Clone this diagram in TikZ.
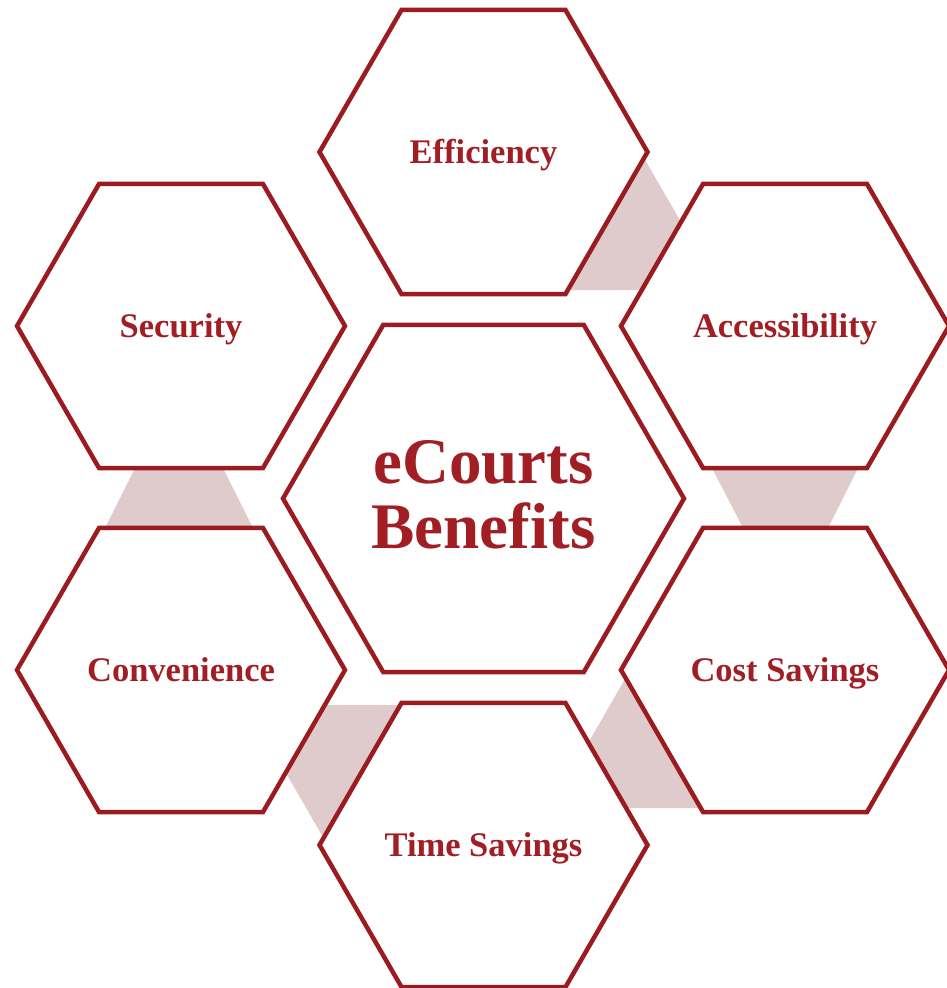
\documentclass[tikz,border=0pt]{standalone}
\usepackage{fontspec}
\setmainfont{Liberation Serif}
\definecolor{hexred}{HTML}{9B1C20}
\definecolor{txtred}{HTML}{A11F24}
\definecolor{pinkfill}{HTML}{DFCBCC}
\newcommand\drawhex[3]{%
  \draw[hexline] ({#1-#3},#2) -- ({#1-#3/2},{#2-0.866*#3}) -- ({#1+#3/2},{#2-0.866*#3})
    -- ({#1+#3},#2) -- ({#1+#3/2},{#2+0.866*#3}) -- ({#1-#3/2},{#2+0.866*#3}) -- cycle;}
\begin{document}
\begin{tikzpicture}[x=1pt,y=-1pt,
  hexline/.style={draw=hexred, line width=4.5pt, fill=white, line join=miter},
  band/.style={fill=pinkfill, draw=none},
  lbl/.style={text=txtred, font=\fontsize{34.5}{40}\selectfont\bfseries, anchor=base, inner sep=0pt},
  ttl/.style={text=txtred, font=\fontsize{65}{65}\selectfont\bfseries, anchor=base, inner sep=0pt}]
\useasboundingbox (0,0) rectangle (946,988);
% pink bands between neighbouring hexagons
\fill[band] (644,158) -- (681,222) -- (641.8,290) -- (567.8,290) -- cycle;
\fill[band] (712,468) -- (858,468) -- (828,528) -- (743,528) -- cycle;
\fill[band] (625.6,678) -- (700.7,808) -- (626,808) -- (588.4,742.5) -- cycle;
\fill[band] (324.8,705) -- (400.4,705) -- (323.5,838) -- (285.7,772.6) -- cycle;
\fill[band] (135,468) -- (223,468) -- (253,528) -- (105,528) -- cycle;
% hexagons
\drawhex{483.5}{498.5}{200.5}
\drawhex{483.5}{152}{164}
\drawhex{785}{326}{164}
\drawhex{785}{670}{164}
\drawhex{483.5}{845}{164}
\drawhex{181}{670}{164}
\drawhex{181}{326}{164}
% labels
\node[ttl] (ecourts) at (483.5,483) {eCourts};
\node[ttl] (benefits) at (483.5,548) {Benefits};
\node[lbl] (eff) at (483.5,163) {Efficiency};
\node[lbl] (acc) at (785,337) {Accessibility};
\node[lbl] (cost) at (785,681) {Cost Savings};
\node[lbl] (time) at (483.5,856) {Time Savings};
\node[lbl] (conv) at (181,681) {Convenience};
\node[lbl] (sec) at (181,337) {Security};
\end{tikzpicture}
\end{document}
